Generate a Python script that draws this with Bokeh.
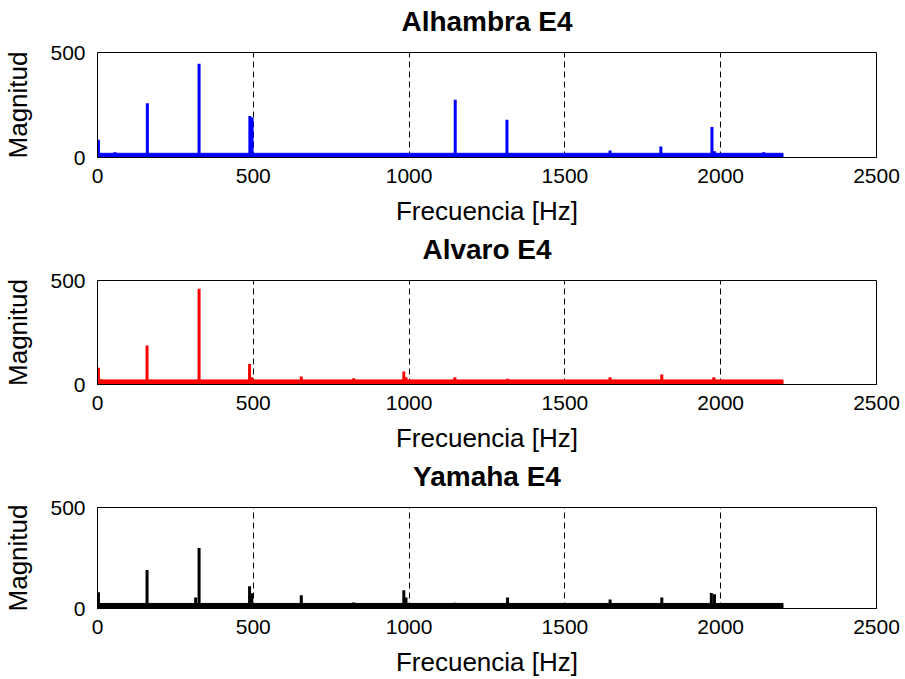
from bokeh.plotting import figure
from bokeh.layouts import column
from bokeh.models import Range1d, FixedTicker, LinearAxis
from bokeh.embed import file_html
from bokeh.resources import INLINE

# ---- data ----
titles = ["Alhambra E4", "Alvaro E4", "Yamaha E4"]
colors = ["#0000FF", "#FF0000", "#000000"]

alhambra_freq = [3, 10, 56, 160, 326, 489, 496, 985, 1148, 1314, 1645, 1808, 1972, 1980, 2138]
alhambra_mag = [85, 22, 25, 258, 446, 198, 190, 22, 275, 180, 33, 52, 145, 30, 25]

alvaro_freq = [3, 10, 159, 326, 488, 495, 654, 822, 983, 990, 1147, 1316, 1645, 1811, 1978]
alvaro_mag = [80, 25, 187, 460, 98, 35, 38, 30, 62, 35, 35, 28, 35, 48, 35]

yamaha_freq = [3, 10, 159, 315, 326, 488, 495, 654, 822, 983, 990, 1147, 1316, 1476, 1645, 1811, 1970, 1980]
yamaha_mag = [80, 25, 190, 55, 300, 110, 75, 65, 30, 90, 55, 28, 55, 25, 45, 55, 77, 70]

noise_level = [20, 22, 25]
noise_end = [2200, 2200, 2200]

x_ticks = [0, 500, 1000, 1500, 2000, 2500]
y_ticks = [0, 500]
x_lim = [0, 2500]
y_lim = [0, 500]

series = [(alhambra_freq, alhambra_mag), (alvaro_freq, alvaro_mag), (yamaha_freq, yamaha_mag)]
heights = [228, 227, 224]
frame_h = [105, 104, 102]

FONT = "Liberation Sans"
plots = []
for i, (title, col, (fr, mag)) in enumerate(zip(titles, colors, series)):
    p = figure(width=905, height=heights[i], output_backend="svg", toolbar_location=None,
               x_range=Range1d(*x_lim), y_range=Range1d(*y_lim),
               min_border_left=96, min_border_right=29, min_border_top=52,
               min_border_bottom=heights[i] - 52 - frame_h[i])
    p.background_fill_color = "white"
    p.border_fill_color = "white"
    p.outline_line_color = "black"
    p.outline_line_width = 1

    p.xaxis.ticker = FixedTicker(ticks=x_ticks)
    p.yaxis.ticker = FixedTicker(ticks=y_ticks)
    for ax in (p.xaxis[0], p.yaxis[0]):
        ax.major_label_text_font = FONT
        ax.major_label_text_font_size = "21px"
        ax.major_label_text_color = "black"
        ax.axis_label_text_font = FONT
        ax.axis_label_text_font_size = "26px"
        ax.axis_label_text_font_style = "normal"
        ax.axis_label_text_color = "black"
        ax.major_tick_in = 0
        ax.major_tick_out = 0
        ax.minor_tick_in = 0
        ax.minor_tick_out = 0
        ax.axis_line_color = "black"
    p.xaxis.axis_label = "Frecuencia [Hz]"
    p.yaxis.axis_label = "Magnitud"
    p.xaxis.major_label_standoff = 11
    p.xaxis.axis_label_standoff = 10
    p.yaxis.major_label_standoff = 12
    p.yaxis.axis_label_standoff = 14

    # title as the label of a bare axis above the frame
    top_axis = LinearAxis(ticker=FixedTicker(ticks=[]), axis_label=title,
                          axis_label_text_font=FONT, axis_label_text_font_size="28px",
                          axis_label_text_font_style="bold", axis_label_text_color="black",
                          axis_label_standoff=16, axis_line_color=None,
                          major_tick_in=0, major_tick_out=0,
                          minor_tick_in=0, minor_tick_out=0)
    p.add_layout(top_axis, "above")

    p.xgrid.grid_line_color = "black"
    p.xgrid.grid_line_dash = "6 4"
    p.xgrid.grid_line_width = 1
    p.ygrid.visible = False

    p.quad(left=[0], right=[noise_end[i]], bottom=[0], top=[noise_level[i]],
           fill_color=col, line_color=col, line_width=1)
    p.segment(x0=fr, y0=[0] * len(fr), x1=fr, y1=mag, line_color=col, line_width=3)
    plots.append(p)

layout = column(*plots, spacing=0)
open("out.html", "w").write(file_html(layout, INLINE))
